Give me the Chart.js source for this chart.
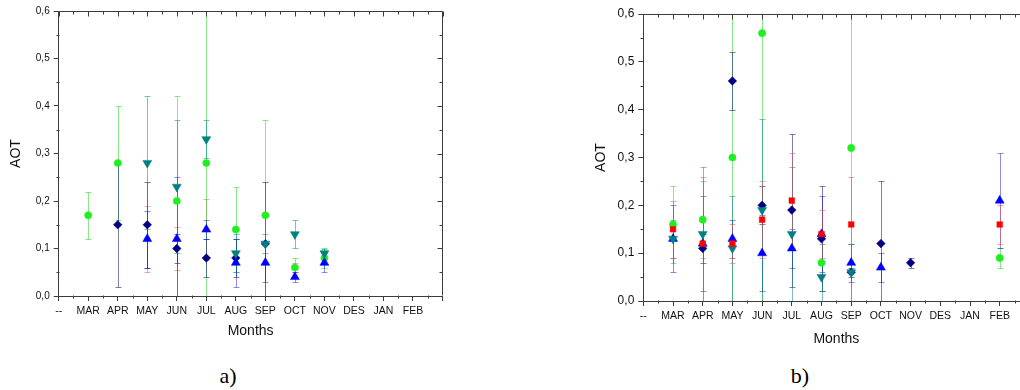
<!DOCTYPE html>
<html><head><meta charset="utf-8">
<script src="https://cdn.jsdelivr.net/npm/chart.js@4.4.1/dist/chart.umd.min.js"></script>
<style>
html,body{margin:0;padding:0;width:1020px;height:390px;overflow:hidden;background:#fff;}
#ca{position:absolute;left:0;top:0;}
#cb{position:absolute;left:585px;top:0;}
.cap{position:absolute;font-family:"Liberation Serif","Times New Roman",serif;font-size:22px;color:#000;transform:translate(-50%,-50%);}
</style></head><body>
<canvas id="ca" width="470" height="345"></canvas>
<canvas id="cb" width="470" height="355"></canvas>
<div class="cap" style="left:228px;top:376px">a)</div>
<div class="cap" style="left:800px;top:376px">b)</div>
<script>
// ---- categories and tick labels ----
const months = ['--','MAR','APR','MAY','JUN','JUL','AUG','SEP','OCT','NOV','DES','JAN','FEB'];
const yTicks = [0, 0.1, 0.2, 0.3, 0.4, 0.5, 0.6];

// ---- chart a) values (AOT) and error half-widths ----
const aGreen    = [null,0.17,0.28,null,0.20,0.28,0.14,0.17,0.06,0.08,null,null,null];
const aGreenErr = [null,0.05,0.12,null,0.22,0.36,0.09,0.20,0.02,0.02,null,null,null];
const aNavy     = [null,null,0.15,0.15,0.10,0.08,0.08,0.11,null,null,null,null,null];
const aNavyErr  = [null,null,0.13,0.09,0.03,0.04,0.04,0.13,null,null,null,null,null];
const aBlue     = [null,null,null,0.12,0.12,0.14,0.07,0.07,0.04,0.07,null,null,null];
const aBlueErr  = [null,null,null,0.06,0.13,0.02,0.05,0.04,0.01,0.02,null,null,null];
const aTeal     = [null,null,null,0.28,0.23,0.33,0.09,0.11,0.13,0.09,null,null,null];
const aTealErr  = [null,null,null,0.14,0.14,0.04,0.04,0.02,0.03,0.01,null,null,null];
const aRed      = [null,null,null,0.12,0.10,0.14,null,null,0.06,null,null,null,null];
const aRedErr   = [null,null,null,0.07,0.045,0.065,null,null,0.01,null,null,null,null];

// ---- chart b) values (AOT) and error half-widths ----
const bGreen    = [null,0.16,0.17,0.30,0.56,null,0.08,0.32,null,null,null,null,0.09];
const bGreenErr = [null,0.08,0.08,0.35,0.60,null,0.06,0.40,null,null,null,null,0.02];
const bNavy     = [null,null,0.11,0.46,0.20,0.19,0.13,0.06,0.12,0.08,null,null,null];
const bNavyErr  = [null,null,0.03,0.06,0.04,0.16,0.11,0.01,0.13,0.01,null,null,null];
const bBlue     = [null,0.13,0.12,0.13,0.10,0.11,0.14,0.08,0.07,null,null,null,0.21];
const bBlueErr  = [null,0.07,0.10,0.04,0.08,0.04,0.08,0.04,0.03,null,null,null,0.10];
const bTeal     = [null,0.13,0.14,0.11,0.19,0.14,0.05,0.06,null,null,null,null,null];
const bTealErr  = [null,0.04,0.14,0.11,0.19,0.14,0.07,0.06,null,null,null,null,null];
const bRed      = [null,0.15,0.12,0.12,0.17,0.21,0.14,0.16,null,null,null,null,0.16];
const bRedErr   = [null,0.06,0.14,0.04,0.08,0.10,0.05,0.10,null,null,null,null,0.04];

// ---- styles ----
const FONT = '"Liberation Sans", Arial, sans-serif';
const AXIS = '#3c3c3c';
const TEXT = '#111';
const STY = {
  red:   {color:'#ff0000', err:'rgba(225,80,80,0.5)',   style:'rect',     radius:4,   rot:0,   order:0},
  teal:  {color:'#008080', err:'rgba(0,128,128,0.5)',   style:'triangle', radius:5.2, rot:180, order:1},
  blue:  {color:'#0000ff', err:'rgba(0,0,210,0.45)',    style:'triangle', radius:5.2, rot:0,   order:2},
  navy:  {color:'#000080', err:'rgba(40,40,125,0.6)',   style:'rectRot',  radius:4.3, rot:0,   order:3},
  green: {color:'#1ef01e', err:'rgba(40,215,40,0.55)',  style:'circle',   radius:3.6, rot:0,   order:4}
};

function makeSet(key, vals, errs, over){
  const s = Object.assign({}, STY[key], over || {});
  const pts = [];
  vals.forEach((v,i)=>{ if(v!==null) pts.push({x:i, y:v}); });
  return {
    label:key, data:pts, vals:vals, errs:errs, errColor:s.err,
    pointStyle:s.style, pointRadius:s.radius, pointRotation:s.rot,
    backgroundColor:s.color, borderColor:s.color, borderWidth:0.5,
    showLine:false, order:s.order
  };
}

const errorBars = {
  id:'errorBars',
  beforeDatasetsDraw(chart){
    const {ctx, chartArea:a, scales:{x, y}} = chart;
    ctx.save();
    ctx.beginPath();
    ctx.rect(a.left, a.top, a.right - a.left, a.bottom - a.top);
    ctx.clip();
    ctx.lineWidth = 1;
    const sets = chart.data.datasets.slice().sort((p,q)=>q.order-p.order);
    sets.forEach(ds=>{
      ctx.strokeStyle = ds.errColor;
      ds.vals.forEach((v,i)=>{
        const e = ds.errs[i];
        if(v===null || e===null) return;
        const px = Math.round(x.getPixelForValue(i)) + 0.5;
        const t = Math.round(y.getPixelForValue(v + e)) + 0.5;
        const b = Math.round(y.getPixelForValue(v - e)) + 0.5;
        ctx.beginPath();
        ctx.moveTo(px, t); ctx.lineTo(px, b);
        ctx.moveTo(px - 3, t); ctx.lineTo(px + 3, t);
        ctx.moveTo(px - 3, b); ctx.lineTo(px + 3, b);
        ctx.stroke();
      });
    });
    ctx.restore();
  }
};

const frame = {
  id:'frame',
  afterDraw(chart){
    const {ctx, chartArea:a, scales:{x, y}} = chart;
    ctx.save();
    ctx.strokeStyle = AXIS;
    ctx.lineWidth = 1;
    const L = Math.round(a.left) + 0.5, R = Math.round(a.right) - 0.5;
    const T = Math.round(a.top) + 0.5, B = Math.round(a.bottom) - 0.5;
    ctx.beginPath();
    ctx.moveTo(L, T); ctx.lineTo(R, T); ctx.lineTo(R, B);
    for(let i = 0; i <= months.length; i++){
      const px = Math.round(x.getPixelForValue(i)) + 0.5;
      ctx.moveTo(px, T); ctx.lineTo(px, T + 5);
      if(i < months.length){
        const mx = Math.round(x.getPixelForValue(i + 0.5)) + 0.5;
        ctx.moveTo(mx, T); ctx.lineTo(mx, T + 3);
        ctx.moveTo(mx, B); ctx.lineTo(mx, B + 3);
      }
    }
    yTicks.forEach((v, k)=>{
      const py = Math.round(y.getPixelForValue(v)) + 0.5;
      ctx.moveTo(R, py); ctx.lineTo(R - 5, py);
      if(k < yTicks.length - 1){
        const my = Math.round(y.getPixelForValue(v + 0.05)) + 0.5;
        ctx.moveTo(L, my); ctx.lineTo(L - 3, my);
        ctx.moveTo(R, my); ctx.lineTo(R - 3, my);
      }
    });
    ctx.stroke();
    ctx.restore();
  }
};

function build(id, sets, cfg){
  return new Chart(document.getElementById(id), {
    type:'scatter',
    data:{datasets:sets},
    options:{
      responsive:false, animation:false, devicePixelRatio:1,
      layout:{padding:{left:0, top:cfg.top, right:cfg.right, bottom:0}},
      plugins:{legend:{display:false}, tooltip:{enabled:false}},
      scales:{
        x:{
          type:'linear', position:'bottom', min:0, max:months.length,
          afterBuildTicks:(s)=>{ s.ticks = months.map((m,i)=>({value:i})).concat([{value:months.length}]); },
          ticks:{autoSkip:false, maxRotation:0, minRotation:0, padding:4, color:TEXT,
                 font:{family:FONT, size:10.5}, callback:(v)=> (months[v] !== undefined ? months[v] : '')},
          grid:{drawOnChartArea:false, drawTicks:true, tickLength:5, tickColor:AXIS, color:AXIS},
          border:{display:true, color:AXIS, width:1},
          title:{display:true, text:'Months', color:TEXT, font:{family:FONT, size:14},
                 padding:{top:0, bottom:cfg.xTitlePad}},
          afterFit:(s)=>{ s.height = cfg.xH; }
        },
        y:{
          type:'linear', position:'left', min:0, max:0.6,
          afterBuildTicks:(s)=>{ s.ticks = yTicks.map(v=>({value:v})); },
          ticks:{padding:4, color:TEXT, font:{family:FONT, size:cfg.yFont},
                 callback:(v)=> v.toFixed(1).replace('.', ',')},
          grid:{drawOnChartArea:false, drawTicks:true, tickLength:5, tickColor:AXIS, color:AXIS},
          border:{display:true, color:AXIS, width:1},
          title:{display:true, text:'AOT', color:TEXT, font:{family:FONT, size:14},
                 padding:{top:7.6, bottom:0}},
          afterFit:(s)=>{ s.width = cfg.yW; }
        }
      }
    },
    plugins:[errorBars, frame]
  });
}

build('ca', [
  makeSet('red', aRed, aRedErr, {radius:2.4, order:9}),
  makeSet('teal', aTeal, aTealErr),
  makeSet('blue', aBlue, aBlueErr),
  makeSet('navy', aNavy, aNavyErr),
  makeSet('green', aGreen, aGreenErr)
], {top:11, right:27.5, xH:49, xTitlePad:5.6, yW:58.7, yFont:10});

build('cb', [
  makeSet('red', bRed, bRedErr),
  makeSet('teal', bTeal, bTealErr),
  makeSet('blue', bBlue, bBlueErr),
  makeSet('navy', bNavy, bNavyErr),
  makeSet('green', bGreen, bGreenErr)
], {top:14, right:25.6, xH:54, xTitlePad:7.6, yW:58.3, yFont:12});
</script>
</body></html>
